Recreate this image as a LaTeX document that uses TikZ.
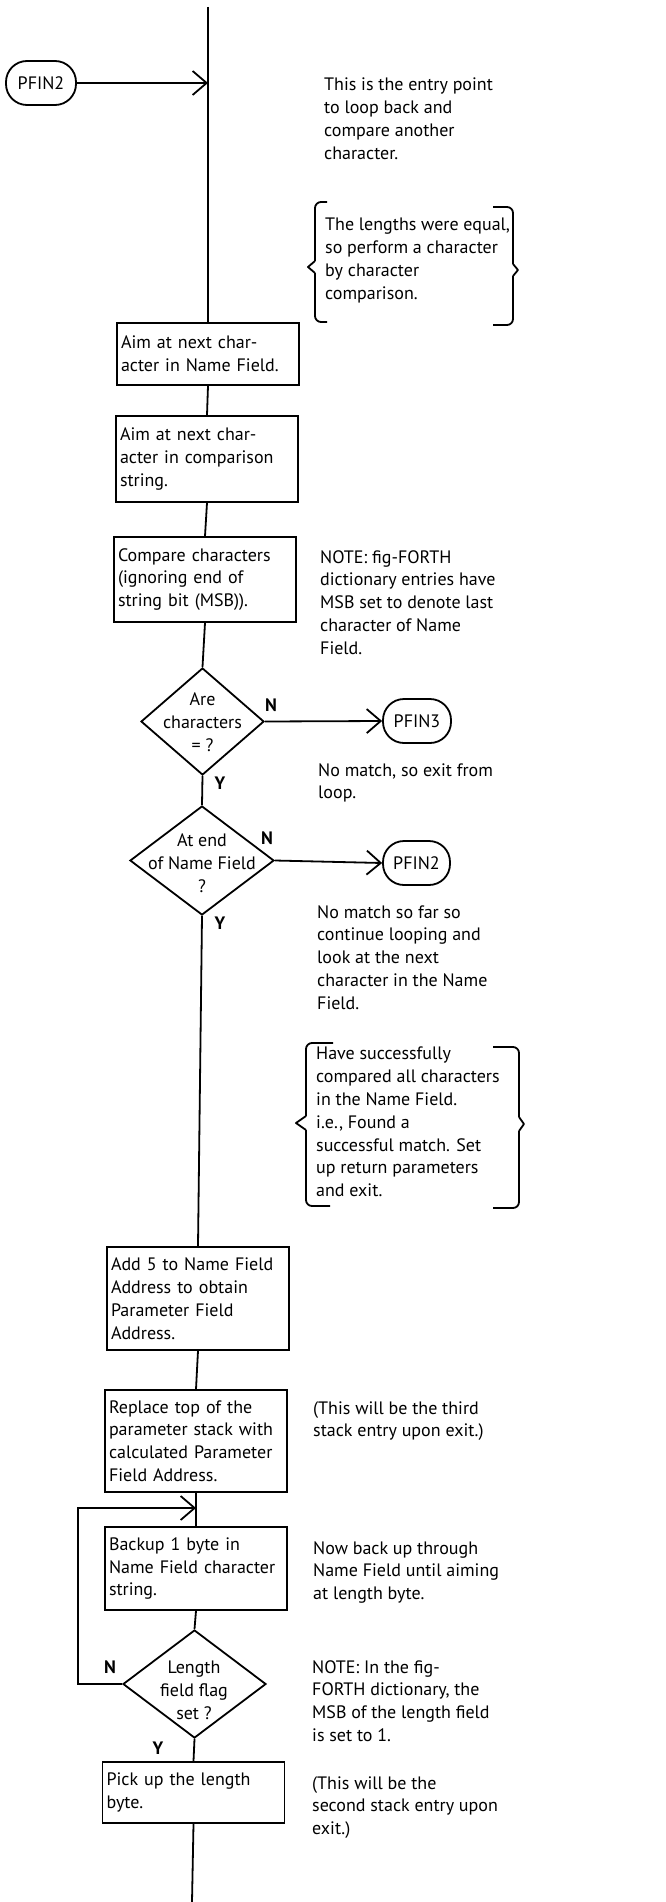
\documentclass[tikz,border=0pt]{standalone}
\usepackage{fontspec}
\setmainfont{PT Sans}
\usepackage{tikz}
\usetikzlibrary{arrows.meta,shapes.geometric}
\newcommand{\flowfont}{\fontsize{18}{22.8}\selectfont}

\tikzset{
  flow/.style={line width=1.8pt},
  arr/.style={-{Straight Barb[length=14pt,width=24pt]}},
  process/.style={draw, line width=1.8pt, minimum width=182pt, text width=174pt,
    inner xsep=4pt, inner ysep=0pt, align=left, font=\flowfont},
  decision/.style={diamond, draw, line width=1.8pt, inner sep=0pt},
  dtext/.style={align=center, inner sep=0pt, font=\flowfont},
  terminal/.style={draw, line width=1.8pt, rounded corners=21pt, minimum height=44pt,
    inner sep=0pt, font=\flowfont},
  note/.style={anchor=north west, align=left, inner sep=0pt, font=\flowfont},
  yn/.style={font=\flowfont\bfseries, inner sep=0pt},
  brace/.style={line width=1.8pt, line join=round}
}

\begin{document}
\begin{tikzpicture}[x=1pt,y=-1pt]
\useasboundingbox (0,0) rectangle (666,1902);

% entry
\coordinate (top) at (208,7);
\coordinate (entry) at (208,83);
\node[terminal, minimum width=70pt] (pfintwo) at (41,83) {PFIN2};
\draw[flow, arr] (pfintwo.east) -- (entry);
\node[note] (entrynote) at (324,78) {This is the entry point\\to loop back and\\compare another\\character.};

% braced remark 1
\draw[brace, rounded corners=6pt] (327,202) -- (315,202) -- (315,261);
\draw[brace] (315,261) -- (308,267) -- (315,273);
\draw[brace, rounded corners=6pt] (315,273) -- (315,322) -- (327,322);
\draw[brace, rounded corners=6pt] (493,207) -- (513,207) -- (513,264);
\draw[brace] (513,264) -- (518,270) -- (513,276);
\draw[brace, rounded corners=6pt] (513,276) -- (513,325) -- (493,325);
\node[note] (equalnote) at (325,218) {The lengths were equal,\\so perform a character\\by character\\comparison.};

% compare loop
\node[process, minimum height=62pt] (aimname) at (208,354) {Aim at next char-\\acter in Name Field.};
\node[process, minimum height=86pt] (aimstr) at (207,459) {Aim at next char-\\acter in comparison\\string.};
\node[process, minimum height=85pt] (compare) at (205,579.5) {Compare characters\\(ignoring end of\\string bit (MSB)).};
\node[note] (msbnote) at (320,550) {NOTE: fig-FORTH\\dictionary entries have\\MSB set to denote last\\character of Name\\Field.};

\node[decision, minimum width=123pt, minimum height=107pt] (chareq) at (202.5,721.5) {};
\node[dtext] (chareqtxt) at (202.5,722) {Are\\characters\\= ?};
\node[terminal, minimum width=68pt] (pfinthree) at (417,721) {PFIN3};
\node[yn] (chareqn) at (271,705) {N};
\node[yn] (chareqy) at (220,783) {Y};
\node[note] (nomatch) at (318,763) {No match, so exit from\\loop.};

\node[decision, minimum width=144pt, minimum height=109pt] (endname) at (202,860.5) {};
\node[dtext] (endnametxt) at (202,863) {At end\\of Name Field\\?};
\node[terminal, minimum width=67pt] (pfinback) at (416.5,863) {PFIN2};
\node[yn] (endnamen) at (267,838) {N};
\node[yn] (endnamey) at (220,923) {Y};
\node[note] (sofar) at (317,905) {No match so far so\\continue looping and\\look at the next\\character in the Name\\Field.};

% braced remark 2
\draw[brace, rounded corners=6pt] (333,1043) -- (306,1043) -- (306,1116);
\draw[brace] (306,1116) -- (296,1123) -- (306,1130);
\draw[brace, rounded corners=6pt] (306,1130) -- (306,1206) -- (330,1206);
\draw[brace, rounded corners=6pt] (493,1047) -- (519,1047) -- (519,1117);
\draw[brace] (519,1117) -- (524,1124) -- (519,1131);
\draw[brace, rounded corners=6pt] (519,1131) -- (519,1208) -- (493,1208);
\node[note] (foundnote) at (316,1047) {Have successfully\\compared all characters\\in the Name Field.\\i.e., Found a\\successful match. Set\\up return parameters\\and exit.};

% return parameters
\node[process, minimum height=103pt] (addfive) at (198,1298.5) {Add 5 to Name Field\\Address to obtain\\Parameter Field\\Address.};
\node[process, minimum height=102pt] (replace) at (196,1441) {Replace top of the\\parameter stack with\\calculated Parameter\\Field Address.};
\node[note] (thirdnote) at (313,1401) {(This will be the third\\stack entry upon exit.)};
\coordinate (backjoin) at (196,1508);
\node[process, minimum height=83pt] (backup) at (196,1568.5) {Backup 1 byte in\\Name Field character\\string.};
\node[note] (backnote) at (313,1541) {Now back up through\\Name Field until aiming\\at length byte.};

\node[decision, minimum width=143pt, minimum height=108pt] (lenflag) at (194.5,1684) {};
\node[dtext] (lenflagtxt) at (194,1690) {Length\\field flag\\set ?};
\node[yn] (lenflagn) at (110,1667) {N};
\node[yn] (lenflagy) at (158,1748) {Y};
\node[note] (lennote) at (312,1660) {NOTE: In the fig-\\FORTH dictionary, the\\MSB of the length field\\is set to 1.};

\node[process, minimum height=61pt] (pickup) at (193.5,1792.5) {Pick up the length\\byte.};
\node[note] (secondnote) at (312,1776) {(This will be the\\second stack entry upon\\exit.)};
\coordinate (bottom) at (192,1902);

% connectors
\draw[flow] (top) -- (aimname.north);
\draw[flow] (aimname.south) -- (aimstr.north);
\draw[flow] (aimstr.south) -- (compare.north);
\draw[flow] (compare.south) -- (chareq.north);
\draw[flow, arr] (chareq.east) -- (pfinthree.west);
\draw[flow] (chareq.south) -- (endname.north);
\draw[flow, arr] (endname.east) -- (pfinback.west);
\draw[flow] (endname.south) -- (addfive.north);
\draw[flow] (addfive.south) -- (replace.north);
\draw[flow] (replace.south) -- (backup.north);
\draw[flow, arr] (lenflag.west) -- ++(-44,0) |- (backjoin);
\draw[flow] (backup.south) -- (lenflag.north);
\draw[flow] (lenflag.south) -- (pickup.north);
\draw[flow] (pickup.south) -- (bottom);
\end{tikzpicture}
\end{document}
